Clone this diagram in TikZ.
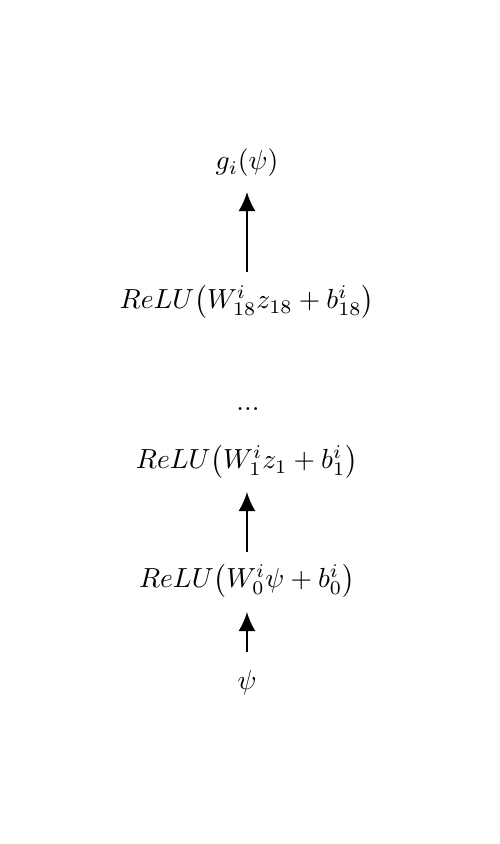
\documentclass[tikz,border=0pt]{standalone}
\usepackage{amsmath}
\usetikzlibrary{arrows.meta}
\tikzset{
  lbl/.style={inner sep=0pt, scale=2.76},
  arr/.style={line width=2pt, -{Latex[length=19pt,width=17pt]}}
}
\begin{document}
\begin{tikzpicture}[x=1pt,y=-1pt]
\useasboundingbox (0,0) rectangle (499,844);
\node[lbl] (g) at (247,163) {$g_i(\psi)$};
\node[lbl] (r18) at (247,302) {$ReLU\big(W^i_{18}z_{18}+b^i_{18}\big)$};
\node[lbl, anchor=base] (dots) at (248,410) {...};
\node[lbl] (r1) at (247,462) {$ReLU\big(W^i_{1}z_{1}+b^i_{1}\big)$};
\node[lbl] (r0) at (247,581) {$ReLU\big(W^i_{0}\psi+b^i_{0}\big)$};
\node[lbl] (psi) at (247,683) {$\psi$};
\draw[arr, shorten <=30pt, shorten >=29pt] (r18.center) -- (g.center);
\draw[arr, shorten <=29pt, shorten >=30pt] (r0.center) -- (r1.center);
\draw[arr, shorten <=31pt, shorten >=31pt] (psi.center) -- (r0.center);
\end{tikzpicture}
\end{document}
